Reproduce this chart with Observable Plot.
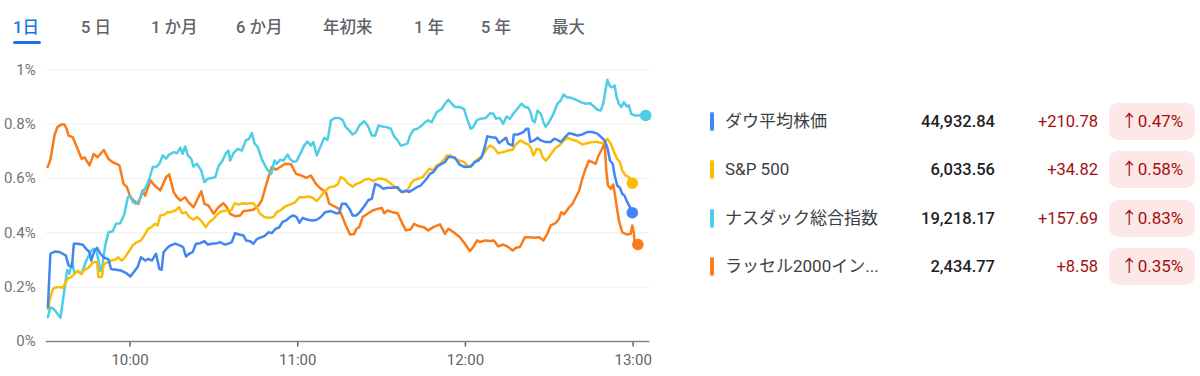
<!DOCTYPE html>
<html><head><meta charset="utf-8">
<script src="https://cdn.jsdelivr.net/npm/d3@7"></script>
<script src="https://cdn.jsdelivr.net/npm/@observablehq/plot@0.6"></script>
<style>
html,body{margin:0;padding:0;background:#fff;}
body{width:1200px;height:376px;position:relative;overflow:hidden;font-family:Roboto,"Noto Sans CJK JP",sans-serif;}
.tab{position:absolute;top:17px;font-size:16.5px;font-weight:500;color:#5f6368;line-height:22px;white-space:nowrap;}
.tab.active{color:#1a73e8;}
.uline{position:absolute;left:13px;top:41px;width:28px;height:3px;border-radius:2px;background:#1a73e8;}
#chart{position:absolute;left:0;top:50px;}
#chart svg text{font-size:15px !important;font-family:Roboto,"Noto Sans CJK JP",sans-serif;}
.row{position:absolute;left:0;width:1200px;height:37px;}
.bar{position:absolute;left:710px;top:9px;width:4px;height:19px;border-radius:2px;}
.name{position:absolute;left:725px;top:7px;font-size:17px;color:#3c4043;line-height:23px;white-space:nowrap;}
.val{position:absolute;right:205px;top:7px;font-size:16.5px;font-weight:500;color:#202124;line-height:23px;}
.chg{position:absolute;right:102px;top:7px;font-size:16.5px;color:#a50e0e;line-height:23px;}
.pill{position:absolute;left:1109px;top:0;width:86px;height:37px;border-radius:9px;background:#fce8e6;color:#a50e0e;font-size:17px;line-height:37px;text-align:center;}
</style></head>
<body>
<div id="tabs"></div>
<div id="chart"></div>
<div id="legend"></div>
<script>
// ---- data ----
const tabLabels = ["1日","5 日","1 か月","6 か月","年初来","1 年","5 年","最大"];
const seriesNames = ["ダウ平均株価","S&P 500","ナスダック総合指数","ラッセル2000イン..."];
const seriesValues = ["44,932.84","6,033.56","19,218.17","2,434.77"];
const seriesChanges = ["+210.78","+34.82","+157.69","+8.58"];
const seriesPcts = ["0.47%","0.58%","0.83%","0.35%"];
const xTicks = [30, 90, 150, 210]; // minutes after 9:30
const xTickLabels = ["10:00","11:00","12:00","13:00"];
const yTicks = [0, 0.2, 0.4, 0.6, 0.8, 1];
const yTickLabels = ["0%","0.2%","0.4%","0.6%","0.8%","1%"];

// [minutes after 9:30, % change]
const dow = [[0.6,.126],[1.5,.323],[3,.331],[4.8,.329],[5.9,.323],[7,.317],[8,.28],[9.2,.274],[9.9,.36],[11.3,.36],[13.1,.356],[14.3,.341],[15.5,.329],[16.1,.298],[17.3,.335],[18.2,.345],[19.4,.323],[20.6,.31],[22.3,.302],[23.2,.267],[25,.264],[26.8,.261],[28.6,.252],[30.1,.239],[31.3,.255],[32.7,.274],[33.9,.31],[35.4,.298],[36.5,.304],[37.8,.298],[39.3,.323],[40.5,.267],[41.3,.264],[42,.329],[43.4,.345],[44.4,.353],[46.2,.36],[48,.353],[49,.347],[50,.313],[51.2,.323],[52.4,.329],[53.6,.36],[55.1,.362],[56.6,.369],[57.8,.357],[59.3,.36],[61.1,.362],[62.2,.366],[63.8,.357],[65.2,.36],[66.4,.366],[67.6,.399],[69,.394],[70.6,.39],[71.5,.372],[73,.369],[74.1,.36],[75.3,.376],[76.5,.382],[78.1,.388],[79.5,.402],[80.7,.399],[82.1,.415],[83.3,.419],[84.5,.439],[86,.447],[87.2,.458],[88.4,.464],[89.6,.458],[90.6,.437],[91.8,.455],[93.5,.448],[95.3,.445],[96.8,.448],[98.3,.458],[99.8,.476],[101.9,.48],[103.7,.472],[104.8,.472],[105.8,.507],[107.2,.507],[108.7,.485],[109.6,.464],[111,.464],[112.2,.476],[113.8,.498],[115.3,.521],[116.5,.525],[117.7,.58],[119.1,.574],[120.6,.562],[122.1,.566],[123.9,.566],[125.7,.568],[127.2,.55],[128.9,.556],[129.8,.55],[130.8,.556],[132.6,.568],[134,.574],[135,.586],[136.1,.599],[137.3,.617],[138.5,.623],[140,.644],[141.5,.654],[142.7,.66],[143.9,.679],[145.1,.679],[146.3,.676],[147.8,.652],[149.2,.644],[150.4,.642],[151.9,.644],[153.4,.66],[154.6,.666],[155.8,.679],[157,.718],[157.8,.755],[159.4,.752],[160.9,.75],[162.1,.73],[163.5,.742],[164.5,.75],[165.3,.728],[166.9,.721],[167.3,.762],[168.9,.762],[170.7,.771],[171.9,.783],[172.5,.783],[173.2,.734],[174.6,.74],[175.8,.75],[177,.74],[178.7,.734],[180.5,.734],[181.7,.746],[182.9,.742],[184.1,.734],[185.5,.75],[187.1,.767],[188.9,.762],[190.1,.758],[191.8,.762],[193.6,.771],[195.4,.771],[197.2,.765],[198.6,.752],[199.8,.74],[200.8,.713],[201.7,.666],[202.7,.654],[203.4,.611],[204.3,.574],[205.3,.565],[206.1,.544],[206.9,.537],[207.9,.513],[208.9,.494],[209.7,.474]];
const sp500 = [[0.6,.12],[1.5,.163],[2.4,.194],[3.6,.2],[5.1,.2],[6,.198],[6.8,.215],[7.7,.231],[8.9,.237],[10.1,.249],[11.3,.261],[12.5,.249],[13.7,.264],[15.1,.271],[16.7,.292],[18.2,.292],[18.7,.237],[19.9,.237],[20.6,.284],[22,.292],[23.2,.298],[24.6,.301],[25.8,.31],[27,.298],[28.2,.31],[29.8,.335],[30.9,.353],[32.5,.366],[33.9,.372],[35.1,.39],[36.5,.415],[37.7,.421],[38.9,.433],[39.9,.427],[40.8,.464],[42.3,.467],[43.4,.476],[44.4,.476],[46.2,.482],[47.6,.494],[48.6,.472],[50,.476],[51.2,.458],[52.7,.448],[53.9,.458],[55.1,.448],[56.3,.433],[57.1,.421],[58.3,.439],[59.9,.452],[61.4,.47],[62.8,.479],[64.6,.482],[66.2,.482],[67.4,.509],[68.8,.504],[70.2,.509],[71.8,.507],[73,.509],[74.1,.509],[75.3,.494],[76.5,.47],[78.1,.458],[79.7,.455],[81.3,.458],[82.5,.476],[84,.484],[85.5,.497],[87.2,.504],[89.1,.513],[90.6,.531],[92.3,.531],[94.1,.534],[95.3,.529],[96.8,.517],[98,.531],[99.5,.55],[101.3,.568],[103.1,.571],[104.3,.578],[105.4,.605],[106.6,.599],[107.8,.583],[109.6,.57],[111,.58],[112.6,.586],[114.1,.596],[115.6,.599],[117,.59],[118.5,.599],[120.1,.599],[121.3,.596],[122.7,.586],[124.1,.574],[125.7,.562],[127.2,.55],[128.7,.55],[129.5,.56],[130.4,.58],[131.6,.594],[133.2,.599],[134.7,.605],[135.9,.62],[137.1,.636],[138.5,.63],[139.7,.648],[140.9,.654],[142.3,.669],[143.3,.685],[144.7,.685],[146.3,.672],[147.8,.666],[149.5,.66],[151,.644],[152.2,.648],[153.4,.664],[154.6,.672],[156.1,.685],[157.6,.709],[158.8,.721],[160.2,.713],[161.7,.693],[163.5,.697],[165.3,.703],[166.9,.706],[168,.725],[169.7,.74],[171.3,.73],[172.5,.725],[173.4,.713],[174.3,.685],[175.5,.709],[176.7,.706],[177.6,.679],[178.7,.666],[179.9,.679],[181.1,.697],[182.3,.713],[183.5,.721],[184.7,.734],[186.5,.75],[188.3,.742],[190.1,.737],[191.8,.725],[193.6,.73],[195.4,.734],[197.2,.734],[199,.73],[199.8,.734],[200.8,.746],[202,.728],[203.2,.697],[204.3,.672],[205.3,.66],[206.1,.629],[207.3,.611],[208.5,.605],[209.7,.583]];
const nasdaq = [[0.6,.09],[1.5,.126],[2.7,.12],[3.9,.104],[5.1,.087],[6.3,.175],[7.5,.264],[8.3,.249],[9.2,.292],[10.1,.252],[11.3,.258],[12.7,.249],[13.9,.286],[14.9,.31],[16.1,.335],[17,.341],[17.9,.335],[18.4,.313],[19.4,.259],[20.2,.286],[21.1,.353],[22.3,.402],[23.8,.406],[25,.433],[26.5,.435],[28,.47],[29.2,.531],[30.1,.537],[31,.513],[32.1,.507],[33.3,.519],[34.5,.55],[35.7,.568],[36.9,.599],[38.1,.642],[39.3,.642],[40.5,.654],[41.7,.685],[42.9,.673],[44,.688],[45.6,.697],[46.8,.693],[48,.713],[48.8,.691],[49.7,.718],[50.7,.685],[51.9,.672],[52.7,.644],[53.9,.654],[55.5,.629],[56.6,.586],[57.8,.599],[59.3,.602],[60.5,.605],[61.6,.644],[63.1,.666],[64.3,.693],[65.2,.703],[65.8,.666],[67,.693],[68.5,.709],[70,.703],[71.4,.74],[72.6,.746],[73.6,.767],[74.5,.73],[75.7,.715],[77.1,.672],[78.9,.636],[80.5,.617],[81.7,.666],[82.5,.654],[83.7,.669],[84.9,.666],[86.4,.688],[87.2,.672],[88.4,.661],[89.6,.664],[91.2,.697],[92.3,.721],[93.5,.736],[94.7,.721],[95.6,.734],[96.8,.685],[98.3,.721],[99.5,.75],[100.7,.742],[101.9,.814],[103.4,.823],[104.8,.823],[106,.816],[107.2,.789],[108.4,.777],[109.6,.762],[110.8,.77],[112,.795],[113.8,.811],[115.3,.789],[116.5,.758],[117.7,.758],[118.9,.795],[120.3,.791],[121.8,.789],[123.3,.783],[124.5,.755],[125.7,.74],[126.9,.721],[128.4,.725],[129.3,.73],[130.2,.758],[131.4,.779],[132.8,.783],[134.4,.795],[135.5,.807],[136.7,.814],[137.9,.807],[139.7,.844],[141.5,.856],[142.7,.875],[143.9,.89],[145.1,.875],[146.3,.863],[148,.863],[149.5,.856],[150.4,.826],[151.9,.783],[152.8,.789],[154,.814],[155.4,.82],[157.3,.823],[158.8,.84],[160,.838],[160.9,.82],[162.3,.823],[163.5,.801],[164.7,.828],[165.9,.82],[167.1,.838],[168.5,.856],[170.1,.875],[171.3,.863],[172.5,.86],[173.4,.84],[174,.814],[174.8,.807],[175.8,.85],[177,.838],[177.9,.807],[178.7,.791],[179.9,.807],[181.5,.838],[182.9,.875],[184.1,.887],[185.1,.909],[186.3,.899],[187.7,.897],[189.5,.89],[191.2,.881],[193,.875],[194.6,.877],[196,.865],[197.2,.853],[198.4,.85],[199.3,.875],[200.2,.93],[200.8,.963],[201.7,.939],[202.6,.936],[203.4,.942],[204.1,.899],[204.9,.875],[205.8,.863],[206.7,.881],[207.7,.865],[208.5,.869],[209.3,.838],[210.5,.832],[212,.832],[214.5,.832]];
const russell = [[0.5,.642],[1.5,.67],[3,.76],[4,.789],[5.5,.799],[6.5,.799],[7.2,.785],[8,.758],[9.5,.752],[11,.715],[12.7,.672],[13.7,.678],[15.5,.648],[17,.69],[18.4,.678],[20.6,.705],[22.3,.672],[23.8,.66],[26.2,.648],[27.7,.58],[28.9,.568],[30.1,.531],[31.3,.519],[33,.507],[34.5,.556],[35.4,.537],[37.3,.593],[38.7,.575],[40.8,.556],[42.9,.605],[44,.615],[45.6,.55],[46.8,.531],[48,.519],[49.7,.531],[50.9,.513],[52.7,.494],[53.9,.519],[55.5,.553],[56.6,.507],[58.1,.5],[59.9,.47],[61.6,.494],[63.4,.509],[64.6,.494],[65.8,.47],[67.6,.461],[69.4,.464],[70.6,.48],[72.4,.482],[74.1,.485],[75.9,.5],[77.1,.519],[78.3,.562],[79.5,.605],[80.7,.642],[82.2,.632],[83.7,.642],[85.5,.654],[87.6,.652],[89.4,.617],[91.2,.611],[93,.602],[94.7,.611],[96.5,.58],[98.3,.562],[100.1,.55],[101.3,.507],[103.1,.497],[104.8,.488],[106,.458],[107.2,.427],[108.7,.394],[110.2,.396],[111,.415],[112,.421],[113.2,.458],[115,.47],[116.8,.482],[118.5,.488],[120.1,.491],[120.9,.472],[122.1,.482],[123.9,.476],[125.7,.472],[127.5,.433],[128.7,.409],[130.4,.413],[131.6,.433],[133.2,.425],[135,.421],[136.7,.409],[138.5,.421],[140.9,.431],[142.7,.396],[143.9,.415],[145.7,.403],[148,.384],[149.8,.36],[151.6,.333],[152.8,.348],[154.2,.372],[155.2,.366],[157.1,.372],[158.8,.37],[160.2,.372],[161.7,.35],[163.5,.357],[165.3,.348],[166.9,.335],[168.1,.345],[169.5,.348],[171.3,.384],[173,.384],[174.6,.382],[176.4,.384],[177.9,.372],[179.3,.396],[180.5,.427],[182.3,.436],[183.5,.452],[184.3,.476],[185.3,.468],[187.1,.494],[188.3,.507],[189.5,.531],[190.7,.556],[191.8,.599],[193,.636],[194.2,.666],[195.4,.66],[196.6,.654],[197.4,.679],[198.6,.703],[199.8,.73],[200.4,.63],[201,.574],[202,.562],[202.9,.578],[203.8,.519],[204.9,.445],[206.1,.402],[207.7,.394],[209.1,.396],[209.7,.427],[210.3,.396],[210.5,.36],[211.7,.357]];

// ---- layout / styles ----
const colors = ["#4285f4","#fbbc04","#4ecde6","#fa7b17"];
const tabX = [13,81,151,236,323,414,481,552];

// tabs
const tabs = document.getElementById("tabs");
tabLabels.forEach((t,i)=>{
  const d=document.createElement("div");
  d.className="tab"+(i===0?" active":"");
  d.style.left=tabX[i]+"px";
  d.textContent=t;
  tabs.appendChild(d);
});
const u=document.createElement("div");u.className="uline";tabs.appendChild(u);

// chart
const allSeries = [dow, sp500, nasdaq, russell];
const rows = [];
allSeries.forEach((s,k)=>s.forEach(([t,v])=>rows.push({t,v,k})));
const lastPts = allSeries.map((s,k)=>({t:s[s.length-1][0], v:s[s.length-1][1], k}));
const drawOrder = [3,2,1,0];

const plot = Plot.plot({
  width: 660, height: 326,
  marginTop: 19.3, marginBottom: 35, marginLeft: 45.7, marginRight: 10.6,
  style: {fontFamily: "Roboto, 'Noto Sans CJK JP', sans-serif", fontSize: "15px", color: "#5f6368", background: "transparent"},
  x: {domain: [0, 216]},
  y: {domain: [0, 1]},
  marks: [
    Plot.ruleY(yTicks.slice(1), {stroke: "#eeeeee", strokeWidth: 1}),
    Plot.axisY(yTicks, {tickSize: 0, tickPadding: 10.5, tickFormat: (d,i)=>yTickLabels[i], fill: "#70757a", fontSize: 15, label: null}),
    Plot.axisX(xTicks, {tickSize: 5.5, tickPadding: 7, tickFormat: (d,i)=>xTickLabels[i], stroke: "#5f6368", strokeWidth: 1.5, fill: "#5f6368", fontSize: 15, label: null}),
    Plot.ruleY([0], {stroke: "#80868b", strokeWidth: 1.5}),
    ...drawOrder.map(k => Plot.line(rows.filter(d=>d.k===k), {x: "t", y: "v", stroke: colors[k], strokeWidth: 2.5, curve: "linear"})),
    ...drawOrder.map(k => Plot.dot(lastPts.filter(d=>d.k===k), {x: "t", y: "v", r: 5.8, fill: colors[k], stroke: "none"}))
  ]
});
document.getElementById("chart").appendChild(plot);

// legend
const leg = document.getElementById("legend");
const rowTop = [103, 151, 199.5, 248];
seriesNames.forEach((n,i)=>{
  const r=document.createElement("div");r.className="row";r.style.top=rowTop[i]+"px";
  r.innerHTML=`<div class="bar" style="background:${colors[i]}"></div><div class="name">${n}</div><div class="val">${seriesValues[i]}</div><div class="chg">${seriesChanges[i]}</div><div class="pill">↑${seriesPcts[i]}</div>`;
  leg.appendChild(r);
});
</script>
</body></html>
